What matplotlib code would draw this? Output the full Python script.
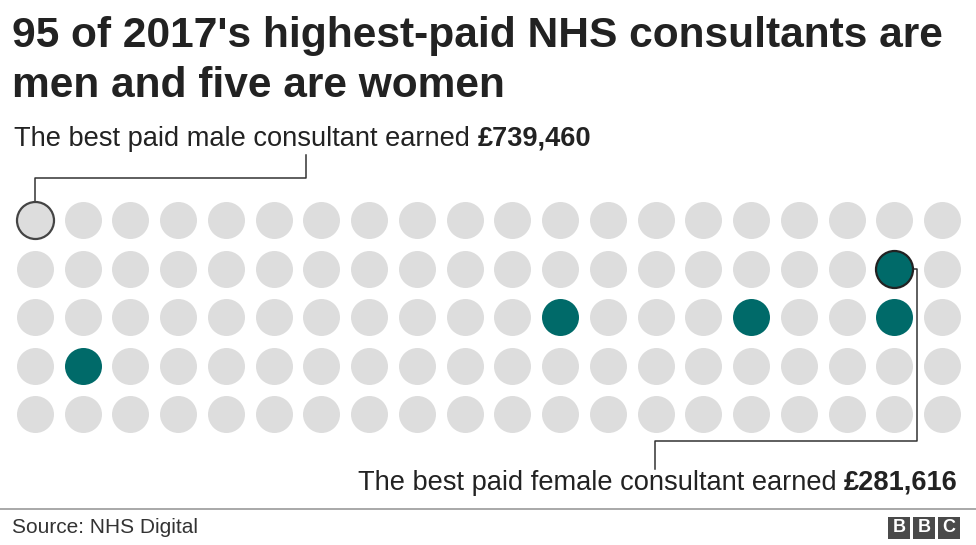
import matplotlib.pyplot as plt
from matplotlib.patches import Rectangle

# data: 100 highest-paid consultants, 20 per row, 5 rows (ranked order)
n_cols = 20
n_rows = 5
# (column, row) of the five women
women_cols = [19, 12, 16, 19, 2]
women_rows = [2, 3, 3, 3, 4]
best_male = (1, 1)
best_female = (19, 2)

title_lines = ["95 of 2017's highest-paid NHS consultants are",
               "men and five are women"]
male_label = "The best paid male consultant earned "
male_pay = "£739,460"
female_label = "The best paid female consultant earned "
female_pay = "£281,616"
source = "Source: NHS Digital"

grey = "#dddddd"
teal = "#006a69"
ink = "#222222"

plt.rcParams["font.family"] = ["Liberation Sans", "DejaVu Sans"]

W, H = 976, 545
fig = plt.figure(figsize=(W / 100, H / 100), dpi=100)
fig.patch.set_facecolor("white")

# dot grid axes, placed so col 1..20 sit at x 35..942 px, rows at y 220..414 px
dx = (942 - 35) / (n_cols - 1)
dy = (414 - 220) / (n_rows - 1)
left = 35 - dx / 2
top = 220 - dy / 2
ax = fig.add_axes([left / W, 1 - (top + n_rows * dy) / H, n_cols * dx / W, n_rows * dy / H])
ax.set_xlim(0.5, n_cols + 0.5)
ax.set_ylim(n_rows + 0.5, 0.5)
ax.axis("off")

xs, ys = [], []
for r in range(1, n_rows + 1):
    for c in range(1, n_cols + 1):
        if (c, r) in zip(women_cols, women_rows):
            continue
        xs.append(c)
        ys.append(r)

size = (37 * 72 / 100) ** 2
ax.scatter(xs, ys, s=size, color=grey, linewidths=0, zorder=2)
ax.scatter(women_cols, women_rows, s=size, color=teal, linewidths=0, zorder=2)
ax.scatter([best_male[0]], [best_male[1]], s=size, facecolor=grey, edgecolor="#444444",
           linewidths=1.6, zorder=3)
ax.scatter([best_female[0]], [best_female[1]], s=size, facecolor=teal, edgecolor="#222222",
           linewidths=1.6, zorder=3)

# connectors (data units: one column = dx px, one row = dy px)
rx = 18.5 / dx
ry = 18.5 / dy
mc, mr = best_male
ax.plot([mc, mc, mc + (306 - 35) / dx, mc + (306 - 35) / dx],
        [mr - ry, mr - 42 / dy, mr - 42 / dy, mr - 65 / dy],
        color="#333333", lw=1.1, clip_on=False, zorder=1)
fc, fr = best_female
xr = fc + 23 / dx
xl = xr - (918 - 656) / dx
ax.plot([fc + rx, xr, xr, xl, xl],
        [fr, fr, fr + 172 / dy, fr + 172 / dy, fr + 200 / dy],
        color="#333333", lw=1.1, clip_on=False, zorder=1)

# title
fig.text(12 / W, 1 - 47 / H, title_lines[0], ha="left", va="baseline", fontsize=30.6,
         fontweight="bold", color=ink)
fig.text(12 / W, 1 - 97 / H, title_lines[1], ha="left", va="baseline", fontsize=30.6,
         fontweight="bold", color=ink)

t = fig.text(14 / W, 1 - 146 / H, male_label, ha="left", va="baseline",
             fontsize=19.6, color=ink)
fig.canvas.draw()
bb = t.get_window_extent()
fig.text(bb.x1 / W, 1 - 146 / H, male_pay, ha="left", va="baseline",
         fontsize=19.6, fontweight="bold", color=ink)

t2 = fig.text(958 / W, 1 - 490 / H, female_pay, ha="right", va="baseline",
              fontsize=19.6, fontweight="bold", color=ink)
fig.canvas.draw()
bb2 = t2.get_window_extent()
fig.text(bb2.x0 / W, 1 - 490 / H, female_label, ha="right", va="baseline",
         fontsize=19.6, color=ink)

# footer
fig.add_artist(plt.Line2D([0, 1], [1 - 509 / H, 1 - 509 / H], color="#999999", lw=1.2))
fig.text(12 / W, 1 - 533 / H, source, ha="left", va="baseline", fontsize=15, color="#333333")

for i, letter in enumerate("BBC"):
    x0 = 888 + i * 25
    fig.add_artist(Rectangle((x0 / W, 1 - 539 / H), 22 / W, 22 / H,
                             transform=fig.transFigure, color="#4a4a4a", lw=0))
    fig.text((x0 + 11) / W, 1 - 528 / H, letter, ha="center", va="center",
             fontsize=13, fontweight="bold", color="white")

fig.savefig("out.png", dpi=100, facecolor="white")
